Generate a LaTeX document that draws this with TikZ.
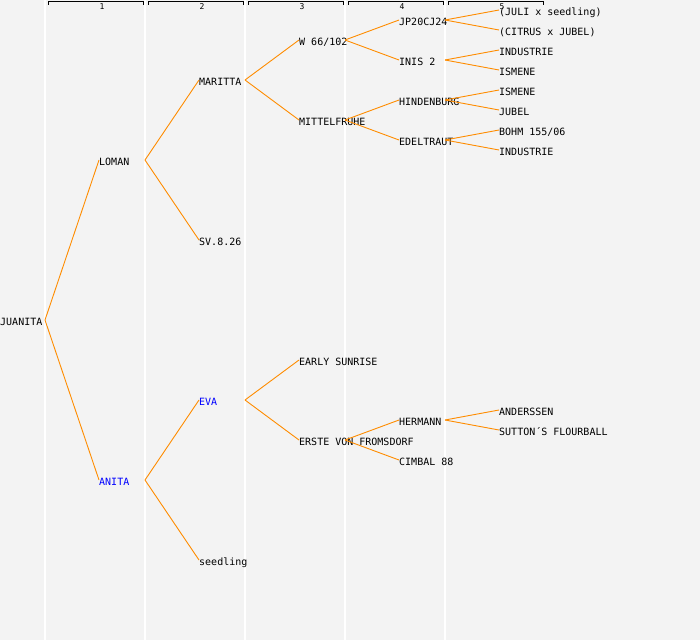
\documentclass[tikz,border=0pt]{standalone}
\usepackage{fontspec}
\usepackage{tikz}
\usetikzlibrary{calc}
\newfontfamily\pedfont{DejaVu Sans Mono}
\definecolor{panel}{HTML}{F3F3F3}
\definecolor{branch}{HTML}{FF8C00}
\definecolor{namehl}{HTML}{0000FF}

\begin{document}
\begin{tikzpicture}[
    x=1pt, y=-1pt,
    cultivar/.style={anchor=west, inner sep=0pt, text height=11pt, text depth=0pt,
                     font=\pedfont\fontsize{10}{10}\selectfont},
    colhead/.style={inner sep=0pt, font=\pedfont\fontsize{8}{8}\selectfont},
    link/.style={draw=branch, line width=0.9pt},
    bracket/.style={draw=black, line width=0.9pt},
]
    \useasboundingbox (0,0) rectangle (700,640);
    \fill[panel] (0,0) rectangle (700,640);

    % Generation columns
    \foreach \i/\x in {1/45, 2/145, 3/245, 4/345, 5/445} {
        \draw[white, line width=1.5pt] (\x,0) -- (\x,640);
        \coordinate (fk\i) at (\x,0);
        \draw[bracket] ({\x+3},4.5) -- ({\x+3},1.5) -- ({\x+98},1.5) -- ({\x+98},4.5);
        \node[colhead] (head\i) at ({\x+57},7) {\i};
    }

    % Generation 0
    \node[cultivar] (juanita) at (0,320) {JUANITA};

    % Generation 1
    \node[cultivar] (loman) at (99,160) {LOMAN};
    \node[cultivar, text=namehl] (anita) at (99,480) {ANITA};

    % Generation 2
    \node[cultivar] (maritta) at (199,80) {MARITTA};
    \node[cultivar] (sv826) at (199,240) {SV.8.26};
    \node[cultivar, text=namehl] (eva) at (199,400) {EVA};
    \node[cultivar] (seedlingA) at (199,560) {seedling};

    % Generation 3
    \node[cultivar] (w66) at (299,40) {W 66/102};
    \node[cultivar] (mittelfruhe) at (299,120) {MITTELFRUHE};
    \node[cultivar] (earlysunrise) at (299,360) {EARLY SUNRISE};
    \node[cultivar] (erste) at (299,440) {ERSTE VON FROMSDORF};

    % Generation 4
    \node[cultivar] (jp20) at (399,20) {JP20CJ24};
    \node[cultivar] (inis) at (399,60) {INIS 2};
    \node[cultivar] (hindenburg) at (399,100) {HINDENBURG};
    \node[cultivar] (edeltraut) at (399,140) {EDELTRAUT};
    \node[cultivar] (hermann) at (399,420) {HERMANN};
    \node[cultivar] (cimbal) at (399,460) {CIMBAL 88};

    % Generation 5
    \node[cultivar] (juli) at (499,10) {(JULI x seedling)};
    \node[cultivar] (citrus) at (499,30) {(CITRUS x JUBEL)};
    \node[cultivar] (industrieA) at (499,50) {INDUSTRIE};
    \node[cultivar] (ismeneA) at (499,70) {ISMENE};
    \node[cultivar] (ismeneB) at (499,90) {ISMENE};
    \node[cultivar] (jubel) at (499,110) {JUBEL};
    \node[cultivar] (bohm) at (499,130) {BOHM 155/06};
    \node[cultivar] (industrieB) at (499,150) {INDUSTRIE};
    \node[cultivar] (anderssen) at (499,410) {ANDERSSEN};
    \node[cultivar] (suttons) at (499,430) {SUTTON´S FLOURBALL};

    % Parent links
    \foreach \p/\c/\k in {juanita/loman/1, juanita/anita/1,
                          loman/maritta/2, loman/sv826/2, anita/eva/2, anita/seedlingA/2,
                          maritta/w66/3, maritta/mittelfruhe/3, eva/earlysunrise/3, eva/erste/3,
                          w66/jp20/4, w66/inis/4, mittelfruhe/hindenburg/4, mittelfruhe/edeltraut/4,
                          erste/hermann/4, erste/cimbal/4,
                          jp20/juli/5, jp20/citrus/5, inis/industrieA/5, inis/ismeneA/5,
                          hindenburg/ismeneB/5, hindenburg/jubel/5, edeltraut/bohm/5, edeltraut/industrieB/5,
                          hermann/anderssen/5, hermann/suttons/5}
        \draw[link] (\p.west -| fk\k) -- (\c.west);
\end{tikzpicture}
\end{document}
